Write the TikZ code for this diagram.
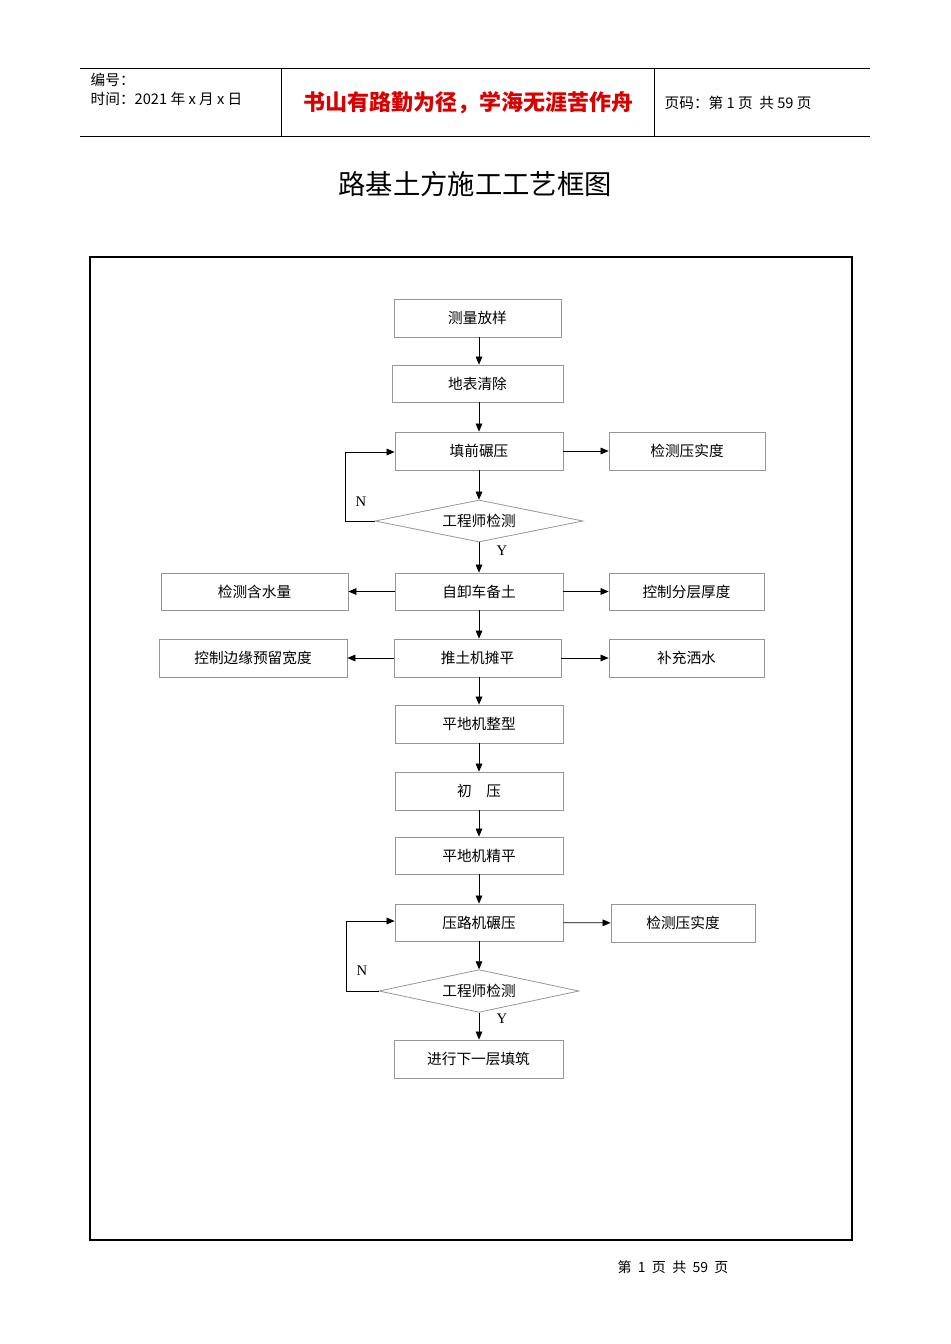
\documentclass[tikz,border=0pt]{standalone}
\usepackage{fontspec}
\setmainfont{Liberation Serif}
\newfontfamily\cjk{Noto Sans CJK SC}
\newfontfamily\cjkl{Noto Sans CJK SC}
\usetikzlibrary{arrows.meta,shapes.geometric}
\definecolor{boxgray}{RGB}{150,150,150}
\tikzset{
 bx/.style={draw=boxgray,line width=0.6pt,inner sep=0pt,font=\cjkl\fontsize{11}{13}\selectfont},
 dm/.style={draw=boxgray,line width=0.6pt,diamond,aspect=5,inner sep=0pt,font=\cjkl\fontsize{11}{13}\selectfont},
 ar/.style={line width=0.5pt,-{Triangle[length=6pt,width=5pt]}},
 lb/.style={font=\fontsize{11}{13}\selectfont},
}
\newcommand{\bxx}[6]{\node[bx,minimum width={(#4-#2)*0.75pt},minimum height={(#5-#3)*0.75pt}] (#1) at ({(#2+#4)/2},{(#3+#5)/2}) {#6};}
\begin{document}
\begin{tikzpicture}[x=0.75pt,y=-0.75pt]
\useasboundingbox (0,0) rectangle (950,1344);
% header
\draw[line width=0.6pt] (80,68)--(870,68) (80,136)--(870,136) (281,68)--(281,136) (654,68)--(654,136);
\node[anchor=west,font=\cjk\fontsize{11}{13}\selectfont] (h1) at (86,80) {编号：};
\node[anchor=west,font=\cjk\fontsize{11}{13}\selectfont] (h2) at (86,99) {时间：2021 年 x 月 x 日};
\node[font=\cjk\bfseries\fontsize{16.5}{19}\selectfont,text=red!85!black] (h3) at (468,103) {书山有路勤为径，学海无涯苦作舟};
\node[anchor=west,font=\cjk\fontsize{11}{13}\selectfont] (h4) at (660,103) {页码：第 1 页\ \ 共 59 页};
\node[font=\cjkl\fontsize{20.5}{23}\selectfont] (title) at (475,184) {路基土方施工工艺框图};
\draw[line width=1.5pt] (90,257) rectangle (852,1240);
% boxes
\bxx{a}{394}{299}{561}{337}{测量放样}
\bxx{b}{392}{365}{563}{402}{地表清除}
\bxx{c}{395}{432}{563}{470}{填前碾压}
\bxx{c2}{609}{432}{765}{470}{检测压实度}
\node[dm,minimum width=156pt,minimum height=31.5pt] (d) at (479,521) {工程师检测};
\bxx{e}{395}{573}{563}{610}{自卸车备土}
\bxx{e1}{161}{573}{348}{610}{检测含水量}
\bxx{e2}{609}{573}{764}{610}{控制分层厚度}
\bxx{f}{394}{639}{561}{677}{推土机摊平}
\bxx{f1}{159}{639}{347}{677}{控制边缘预留宽度}
\bxx{f2}{609}{639}{764}{677}{补充洒水}
\bxx{g}{395}{705}{563}{743}{平地机整型}
\bxx{h}{395}{772}{563}{810}{初\quad 压}
\bxx{i}{395}{837}{563}{874}{平地机精平}
\bxx{j}{395}{904}{563}{941}{压路机碾压}
\bxx{j2}{611}{904}{755}{942}{检测压实度}
\node[dm,minimum width=150pt,minimum height=32pt] (k) at (479,991) {工程师检测};
\bxx{l}{394}{1040}{563}{1078}{进行下一层填筑}
% arrows
\foreach \p/\q in {a/b,b/c,c/d,d/e,e/f,f/g,g/h,h/i,i/j,j/k,k/l}
  \draw[ar] (\p.south-|d) -- (\q.north-|d);
\draw[ar] (c)--(c2);
\draw[ar] (e)--(e1); \draw[ar] (e)--(e2);
\draw[ar] (f)--(f1); \draw[ar] (f)--(f2);
\draw[ar] (j)--(j2);
\coordinate (n1) at (345,521); \coordinate (n1t) at (345,452);
\draw[ar] (d.west)--(n1)--(n1t)--(c.west|-n1t);
\coordinate (n2) at (346,991); \coordinate (n2t) at (346,921);
\draw[ar] (k.west)--(n2)--(n2t)--(j.west|-n2t);
\node[lb] (N1) at (361,502) {N};
\node[lb] (Y1) at (502,551) {Y};
\node[lb] (N2) at (362,971) {N};
\node[lb] (Y2) at (502,1019) {Y};
\node[font=\cjkl\fontsize{10.5}{12}\selectfont] (ft) at (673,1267) {第\ \ 1\ \ 页\ \ 共\ \ 59\ \ 页};
\end{tikzpicture}
\end{document}
